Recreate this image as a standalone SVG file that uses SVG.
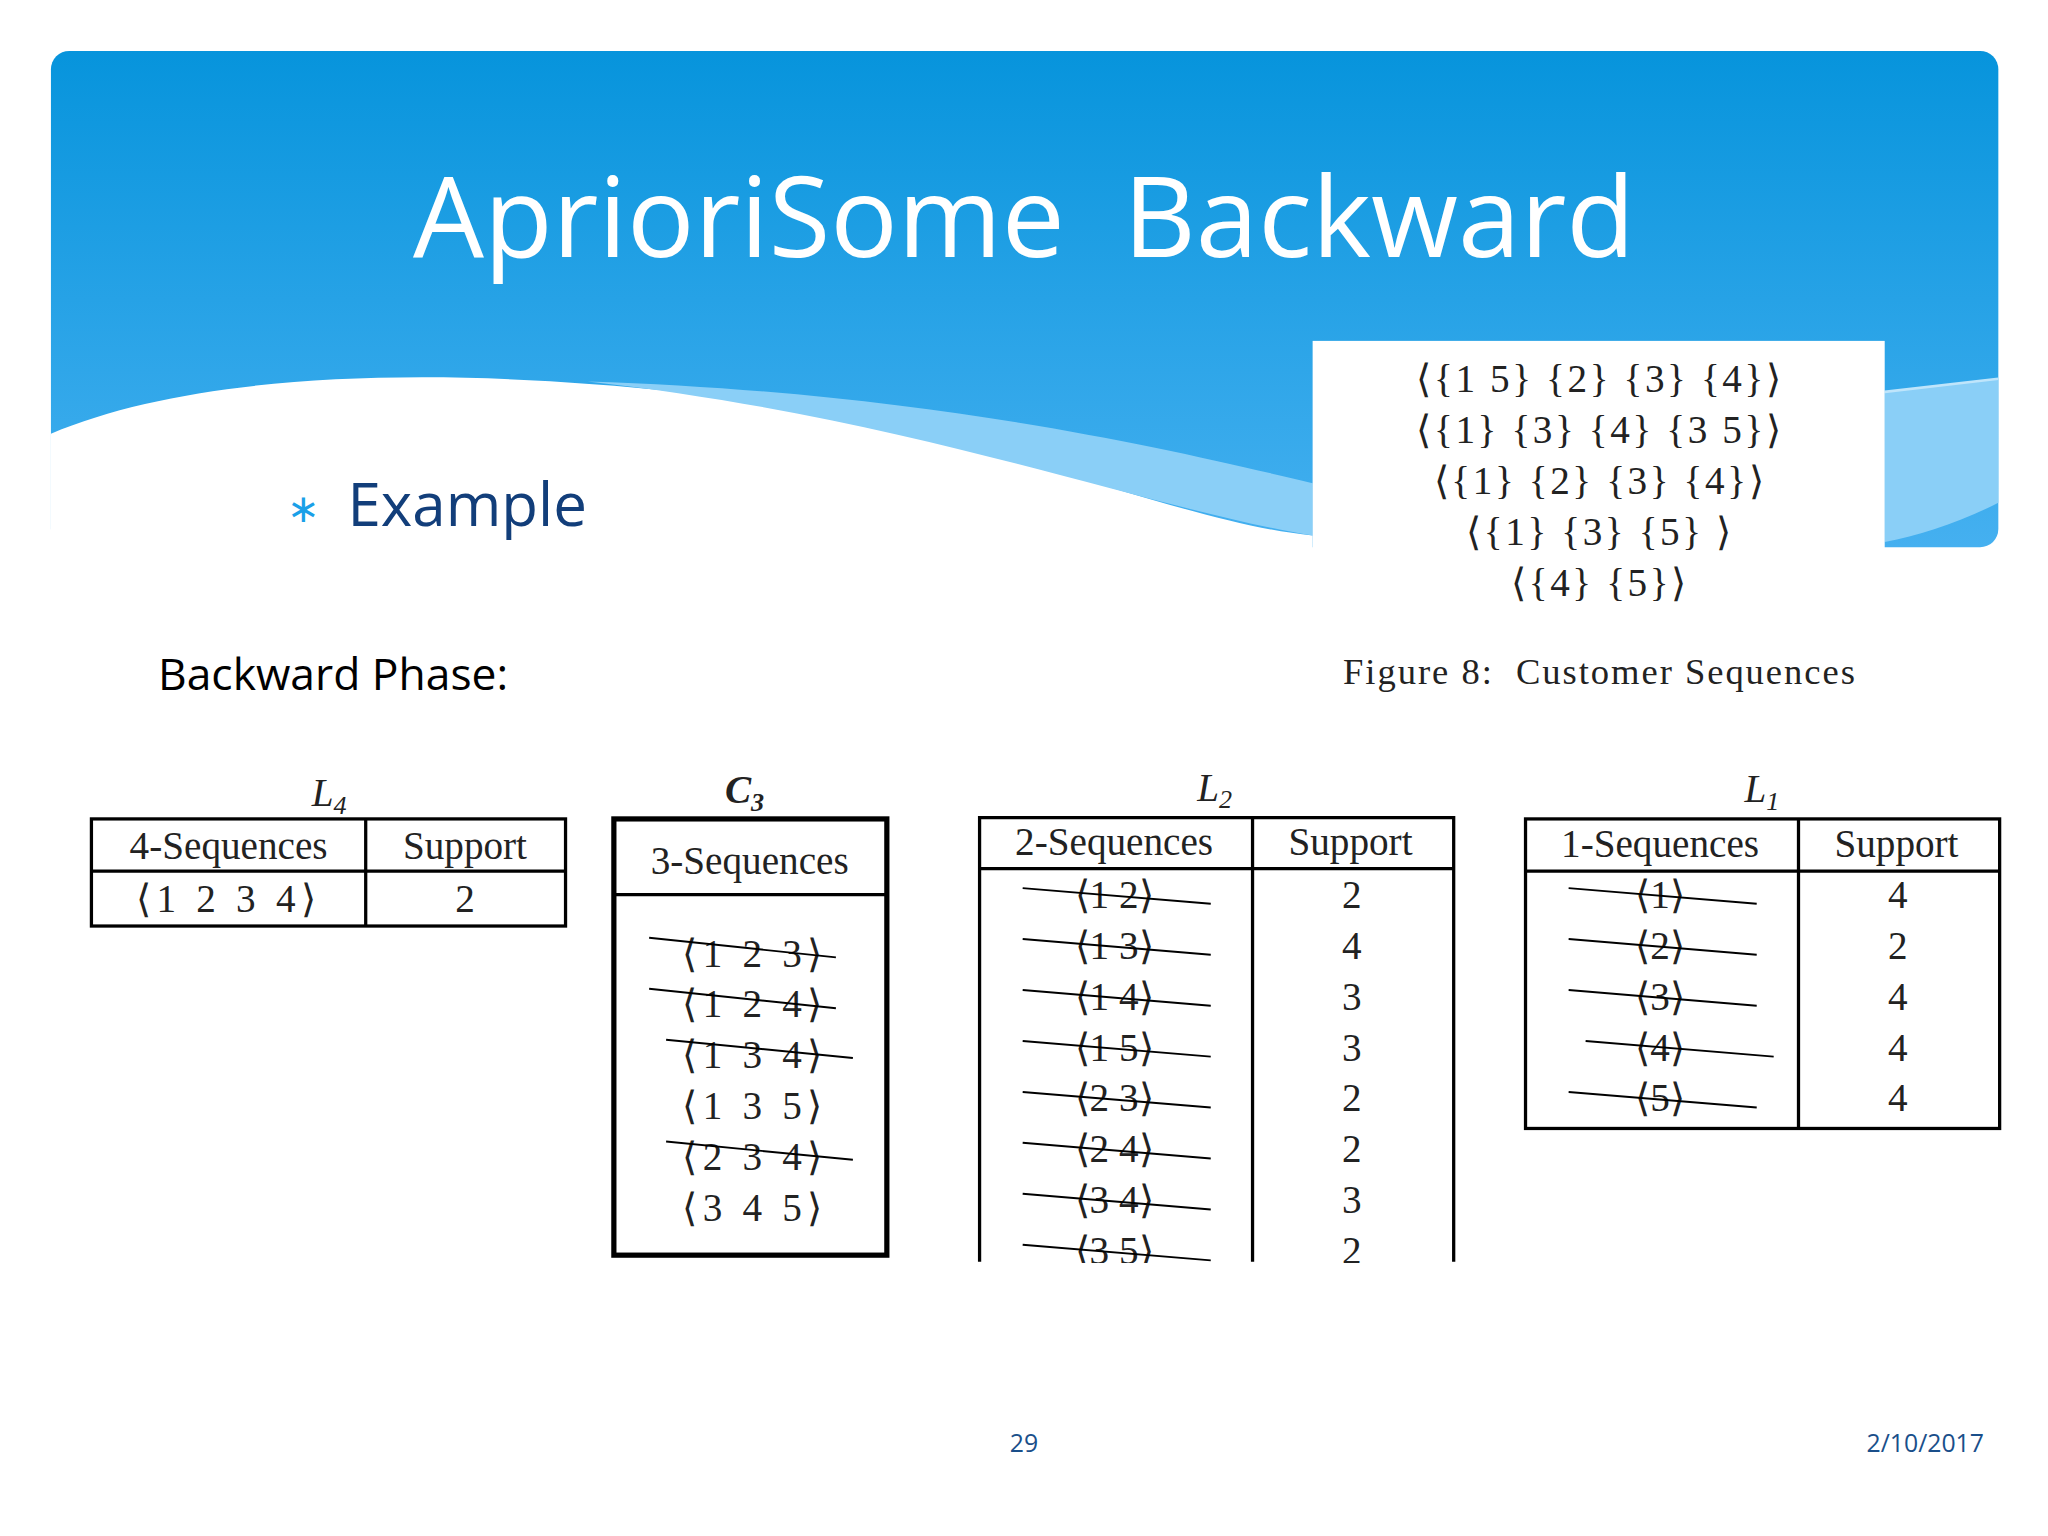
<svg xmlns="http://www.w3.org/2000/svg" width="2048" height="1536" viewBox="0 0 2048 1536">
<defs>
<linearGradient id="bg" x1="0" y1="0" x2="0" y2="1"><stop offset="0" stop-color="#0794DC"/><stop offset="1" stop-color="#45B0F0"/></linearGradient>
<style>
.t{font-family:"Liberation Serif",serif;font-size:30px;fill:#222;text-anchor:middle}
.ln{stroke:#000;stroke-width:2.5;fill:none}
.st{stroke:#000;stroke-width:1.5}
</style>
</defs>
<rect width="2048" height="1536" fill="#fff"/>
<g transform="scale(1.3061)">
<g id="header">
<rect x="39" y="39" width="1491" height="380" rx="14" fill="url(#bg)"/>
<path d="M39,332 C150,285 330,280 520,300 C760,330 900,400 1005,410 L1005,430 L39,430 Z" fill="#fff"/>
<path d="M450,292 C700,300 880,340 1005,370 L1005,410 C880,390 700,320 450,292 Z" fill="#8ACFF7"/>
<path d="M1443,300 L1530,290 L1530,385 C1500,400 1470,410 1443,415 Z" fill="#8ACFF7"/>
<path d="M1443,300 L1530,290" stroke="#BFE5FB" stroke-width="2"/>
<text x="784" y="197" font-family="Open Sans,sans-serif" font-size="86" fill="#fff" text-anchor="middle" style="white-space:pre">AprioriSome  Backward</text>
</g>
<g id="seqbox">
<rect x="1005" y="261" width="438" height="160" fill="#fff"/>
<text class="t" x="1225" y="300" letter-spacing="2">⟨{1 5} {2} {3} {4}⟩</text>
<text class="t" x="1225" y="339" letter-spacing="2">⟨{1} {3} {4} {3 5}⟩</text>
<text class="t" x="1225" y="378" letter-spacing="2">⟨{1} {2} {3} {4}⟩</text>
<text class="t" x="1225" y="417" letter-spacing="2">⟨{1} {3} {5} ⟩</text>
<text class="t" x="1225" y="456" letter-spacing="2">⟨{4} {5}⟩</text>
<text class="t" x="1225" y="524" style="font-size:28px;white-space:pre" letter-spacing="1.5">Figure 8:  Customer Sequences</text>
</g>
<text x="220" y="400" font-family="Open Sans,sans-serif" font-size="30" fill="#1AA0E8">∗</text>
<text x="266" y="403" font-family="Open Sans,sans-serif" font-size="46" fill="#123E7A">Example</text>
<text x="121" y="528" font-family="Open Sans,sans-serif" font-size="34" fill="#000">Backward Phase:</text>
<g id="L4">
<text class="t" x="252" y="617" font-style="italic">L<tspan font-size="20" dy="6">4</tspan></text>
<rect class="ln" x="70" y="627" width="363" height="82"/>
<line class="ln" x1="70" y1="667" x2="433" y2="667"/><line class="ln" x1="280" y1="627" x2="280" y2="709"/>
<text class="t" x="175" y="658">4-Sequences</text><text class="t" x="356" y="658">Support</text>
<text class="t" x="175" y="698" letter-spacing="4">⟨1 2 3 4⟩</text><text class="t" x="356" y="698">2</text>
</g>
<g id="C3">
<text class="t" x="570" y="615" font-weight="bold" font-style="italic">C<tspan font-size="20" dy="6">3</tspan></text>
<rect x="470" y="627" width="209" height="334" fill="none" stroke="#000" stroke-width="4"/>
<line class="ln" x1="470" y1="685" x2="679" y2="685"/>
<text class="t" x="574" y="669">3-Sequences</text>
<g letter-spacing="4">
<text class="t" x="578" y="740">⟨1 2 3⟩</text><line class="st" x1="497" y1="718" x2="640" y2="733"/>
<text class="t" x="578" y="779">⟨1 2 4⟩</text><line class="st" x1="497" y1="757" x2="640" y2="772"/>
<text class="t" x="578" y="818">⟨1 3 4⟩</text><line class="st" x1="510" y1="796" x2="653" y2="810"/>
<text class="t" x="578" y="857">⟨1 3 5⟩</text>
<text class="t" x="578" y="896">⟨2 3 4⟩</text><line class="st" x1="510" y1="874" x2="653" y2="888"/>
<text class="t" x="578" y="935">⟨3 4 5⟩</text>
</g>
</g>
<g id="L2">
<text class="t" x="930" y="613" font-style="italic">L<tspan font-size="20" dy="6">2</tspan></text>
<path class="ln" d="M750,966 V626 H1113 V966 M750,665 H1113 M959,626 V966"/>
<text class="t" x="853" y="655">2-Sequences</text><text class="t" x="1034" y="655">Support</text>
<g>
<text class="t" x="853" y="695">⟨1 2⟩</text><line class="st" x1="783" y1="680" x2="927" y2="692"/><text class="t" x="1035" y="695">2</text>
<text class="t" x="853" y="734">⟨1 3⟩</text><line class="st" x1="783" y1="719" x2="927" y2="731"/><text class="t" x="1035" y="734">4</text>
<text class="t" x="853" y="773">⟨1 4⟩</text><line class="st" x1="783" y1="758" x2="927" y2="770"/><text class="t" x="1035" y="773">3</text>
<text class="t" x="853" y="812">⟨1 5⟩</text><line class="st" x1="783" y1="797" x2="927" y2="809"/><text class="t" x="1035" y="812">3</text>
<text class="t" x="853" y="851">⟨2 3⟩</text><line class="st" x1="783" y1="836" x2="927" y2="848"/><text class="t" x="1035" y="851">2</text>
<text class="t" x="853" y="890">⟨2 4⟩</text><line class="st" x1="783" y1="875" x2="927" y2="887"/><text class="t" x="1035" y="890">2</text>
<text class="t" x="853" y="929">⟨3 4⟩</text><line class="st" x1="783" y1="914" x2="927" y2="926"/><text class="t" x="1035" y="929">3</text>
<text class="t" x="853" y="968">⟨3 5⟩</text><line class="st" x1="783" y1="953" x2="927" y2="965"/><text class="t" x="1035" y="968">2</text>
<rect x="740" y="967" width="400" height="30" fill="#fff"/>
</g>
</g>
<g id="L1">
<text class="t" x="1349" y="614" font-style="italic">L<tspan font-size="20" dy="6">1</tspan></text>
<rect class="ln" x="1168" y="627" width="363" height="237"/>
<line class="ln" x1="1168" y1="667" x2="1531" y2="667"/><line class="ln" x1="1377" y1="627" x2="1377" y2="864"/>
<text class="t" x="1271" y="656">1-Sequences</text><text class="t" x="1452" y="656">Support</text>
<text class="t" x="1271" y="695">⟨1⟩</text><line class="st" x1="1201" y1="680" x2="1345" y2="692"/><text class="t" x="1453" y="695">4</text>
<text class="t" x="1271" y="734">⟨2⟩</text><line class="st" x1="1201" y1="719" x2="1345" y2="731"/><text class="t" x="1453" y="734">2</text>
<text class="t" x="1271" y="773">⟨3⟩</text><line class="st" x1="1201" y1="758" x2="1345" y2="770"/><text class="t" x="1453" y="773">4</text>
<text class="t" x="1271" y="812">⟨4⟩</text><line class="st" x1="1214" y1="797" x2="1358" y2="809"/><text class="t" x="1453" y="812">4</text>
<text class="t" x="1271" y="851">⟨5⟩</text><line class="st" x1="1201" y1="836" x2="1345" y2="848"/><text class="t" x="1453" y="851">4</text>
</g>
<text x="784" y="1112" font-family="Open Sans,sans-serif" font-size="19" fill="#1A4F8A" text-anchor="middle">29</text>
<text x="1519" y="1112" font-family="Open Sans,sans-serif" font-size="19" fill="#1A4F8A" text-anchor="end">2/10/2017</text>
</g>
</svg>
